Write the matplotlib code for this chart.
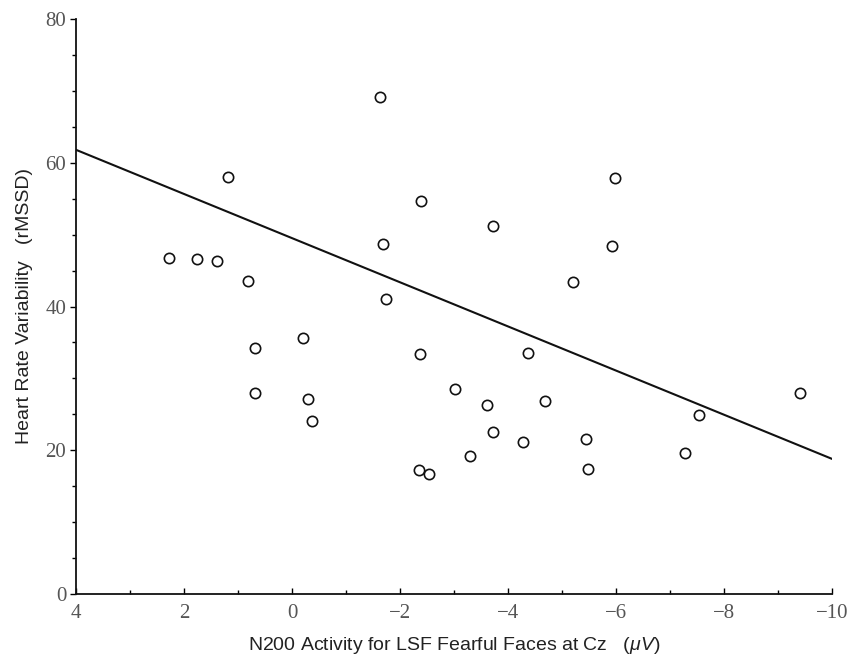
import matplotlib
matplotlib.use("Agg")
import matplotlib.pyplot as plt
from matplotlib.ticker import MultipleLocator

plt.rcParams["mathtext.fontset"] = "custom"
plt.rcParams["mathtext.rm"] = "Liberation Sans"
plt.rcParams["mathtext.it"] = "Liberation Sans:italic"

# N200 amplitude (uV) and rMSSD per participant
n200 = [2.28, 1.76, 1.39, 0.82, 1.19, 0.69, 0.69, -0.20, -0.30, -0.37,
        -1.63, -1.69, -1.74, -2.39, -2.37, -2.35, -2.54, -3.02, -3.30,
        -3.61, -3.72, -3.72, -4.28, -4.37, -4.69, -5.20, -5.44, -5.48,
        -5.93, -5.98, -7.28, -7.54, -9.41]
rmssd = [46.7, 46.6, 46.3, 43.5, 58.0, 34.2, 28.0, 35.6, 27.1, 24.1,
         69.1, 48.7, 41.0, 54.7, 33.4, 17.3, 16.7, 28.5, 19.2,
         26.3, 22.5, 51.2, 21.1, 33.5, 26.9, 43.4, 21.6, 17.4,
         48.4, 57.9, 19.6, 24.9, 28.0]

# regression line endpoints
fit_x = [4, -10]
fit_y = [61.8, 18.8]

fig = plt.figure(figsize=(8.61, 6.59), dpi=100)
ax = fig.add_axes([76 / 861, 65 / 659, 756 / 861, 575 / 659])

ax.plot(fit_x, fit_y, color="#111111", linewidth=1.5, zorder=2)
ax.scatter(n200, rmssd, s=55, facecolors="white", edgecolors="#111111",
           linewidths=1.2, zorder=3)

ax.set_xlim(4, -10)
ax.set_ylim(0, 80)

ax.xaxis.set_major_locator(MultipleLocator(2))
ax.xaxis.set_minor_locator(MultipleLocator(1))
ax.yaxis.set_major_locator(MultipleLocator(20))
ax.yaxis.set_minor_locator(MultipleLocator(5))

ax.spines["top"].set_visible(False)
ax.spines["right"].set_visible(False)
for side in ("left", "bottom"):
    ax.spines[side].set_linewidth(1.3)
    ax.spines[side].set_color("#111111")

ax.tick_params(axis="x", which="both", direction="in", width=1.0, pad=7)
ax.tick_params(axis="x", which="major", length=4)
ax.tick_params(axis="x", which="minor", length=3)
ax.tick_params(axis="y", which="both", direction="out", width=1.0, pad=3)
ax.tick_params(axis="y", which="major", length=4)
ax.tick_params(axis="y", which="minor", length=3)

ax.set_xticks([4, 2, 0, -2, -4, -6, -8, -10])
ax.set_xticklabels(["4", "2", "0", "\u22122", "\u22124", "\u22126", "\u22128", "\u221210"])
for lab in ax.get_xticklabels() + ax.get_yticklabels():
    lab.set_fontfamily("Liberation Serif")
    lab.set_fontsize(15)
    lab.set_color("#555555")

ax.set_xlabel(r"N200 Activity for LSF Fearful Faces at Cz   ($\mathit{\mu V}$)",
              fontfamily="Liberation Sans", fontsize=14, color="#222222", labelpad=9)
ax.set_ylabel("Heart Rate Variability   (rMSSD)",
              fontfamily="Liberation Sans", fontsize=14, color="#222222", labelpad=9)

fig.savefig("out.png", dpi=100, facecolor="white")
